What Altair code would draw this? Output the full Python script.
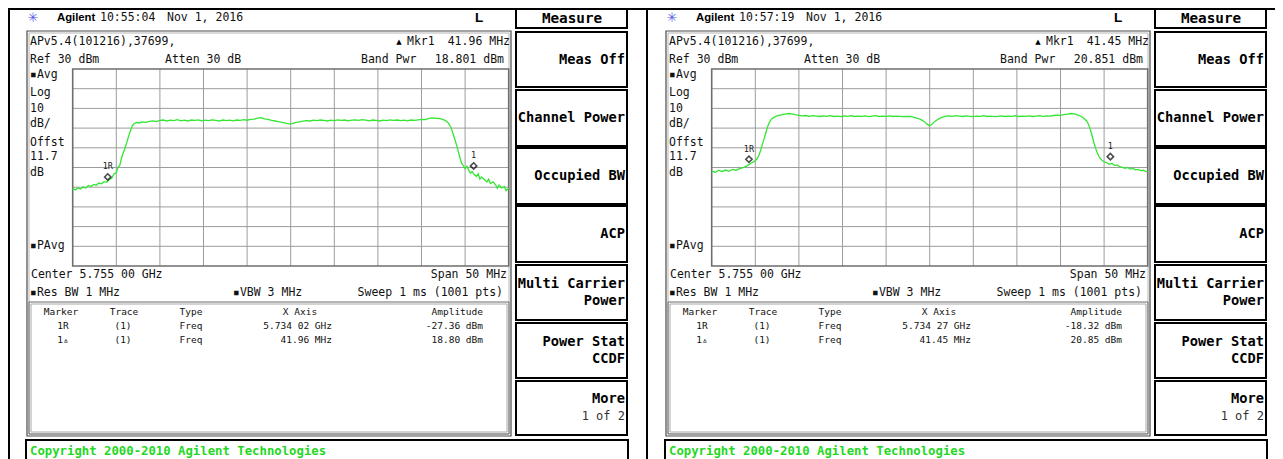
import altair as alt
import pandas as pd

# ---------------- values read from the two analyser screens ----------------
# (frequency offset from centre [MHz], level [dBm])
LEFT_TRACE = [
    (-25.0, -30.6), (-24.7, -31.4), (-24.4, -30.3), (-24.1, -30.9), (-23.8, -29.8), (-23.5, -30.4),
    (-23.2, -29.1), (-22.9, -29.6), (-22.6, -28.6), (-22.3, -29.0), (-22.0, -27.9), (-21.7, -28.3),
    (-21.4, -27.2), (-21.1, -27.5), (-20.8, -26.0), (-20.5, -25.3),
    (-20.3, -23.4), (-20.0, -22.6), (-19.8, -19.8), (-19.6, -18.9), (-19.4, -15.2), (-19.2, -12.6),
    (-19.0, -10.1), (-18.8, -7.4), (-18.6, -4.3), (-18.4, -1.6), (-18.2, 0.9), (-18.0, 2.1),
    (-17.7, 2.9), (-17.4, 2.6), (-17.0, 3.1), (-16.6, 2.9), (-16.2, 3.4), (-15.8, 3.7), (-15.4, 3.3),
    (-15.0, 3.9), (-14.6, 4.1), (-14.2, 3.6), (-13.8, 4.0), (-13.4, 3.8), (-13.0, 4.3), (-12.6, 3.7),
    (-12.2, 4.0), (-11.8, 3.6), (-11.4, 4.1), (-11.0, 3.9), (-10.6, 4.2), (-10.2, 3.7), (-9.8, 4.0),
    (-9.4, 3.8), (-9.0, 4.2), (-8.6, 3.9), (-8.2, 3.6), (-7.8, 4.1), (-7.4, 3.8), (-7.0, 4.0),
    (-6.6, 3.7), (-6.2, 4.1), (-5.8, 3.9), (-5.4, 4.3), (-5.0, 4.0), (-4.6, 4.4), (-4.2, 4.6),
    (-3.8, 5.1), (-3.4, 5.3), (-3.0, 4.7), (-2.6, 4.4), (-2.2, 3.9), (-1.8, 3.6), (-1.4, 3.3),
    (-1.0, 2.9), (-0.6, 2.5), (-0.2, 2.1), (0.2, 2.3), (0.6, 2.9), (1.0, 3.2), (1.4, 3.5), (1.8, 3.8),
    (2.2, 3.6), (2.6, 4.0), (3.0, 3.8), (3.4, 4.1), (3.8, 3.9), (4.2, 3.6), (4.6, 4.0), (5.0, 3.8),
    (5.4, 4.2), (5.8, 3.9), (6.2, 4.1), (6.6, 3.7), (7.0, 4.0), (7.4, 4.2), (7.8, 3.9), (8.2, 4.3),
    (8.6, 4.0), (9.0, 3.7), (9.4, 4.1), (9.8, 3.9), (10.2, 3.6), (10.6, 4.0), (11.0, 3.8), (11.4, 4.2),
    (11.8, 3.9), (12.2, 4.1), (12.6, 3.8), (13.0, 4.0), (13.4, 3.7), (13.8, 4.1), (14.2, 3.9),
    (14.6, 4.2), (15.0, 4.4), (15.4, 4.3), (15.8, 4.8), (16.2, 5.2), (16.6, 5.0), (17.0, 4.9),
    (17.4, 4.4), (17.7, 3.9), (18.0, 3.0), (18.2, 1.8), (18.4, 0.1), (18.6, -2.6), (18.8, -5.4),
    (19.0, -8.3), (19.2, -11.6), (19.4, -14.9), (19.6, -17.8), (19.8, -19.1), (20.0, -20.6),
    (20.2, -19.4), (20.4, -21.2), (20.6, -22.9), (20.8, -22.0), (21.0, -23.3), (21.3, -24.6),
    (21.5, -23.2), (21.7, -25.9), (21.9, -24.8), (22.2, -26.1), (22.5, -27.4), (22.7, -25.9),
    (22.9, -28.1), (23.2, -27.3), (23.5, -28.8), (23.7, -30.6), (23.9, -28.9), (24.2, -30.4),
    (24.5, -29.6), (24.7, -31.7), (25.0, -30.5),
]
RIGHT_TRACE = [
    (-25.0, -21.8), (-24.6, -22.4), (-24.2, -21.5), (-23.8, -22.0), (-23.4, -21.3), (-23.0, -21.9),
    (-22.6, -21.0), (-22.2, -21.4), (-21.8, -20.6), (-21.4, -20.1), (-21.0, -19.3), (-20.7, -18.4),
    (-20.4, -17.6), (-20.1, -16.9), (-19.8, -15.6), (-19.6, -13.9), (-19.4, -11.5), (-19.2, -8.4),
    (-19.0, -5.6), (-18.8, -2.5), (-18.6, 0.6), (-18.4, 2.8), (-18.2, 4.3), (-18.0, 5.1),
    (-17.7, 5.8), (-17.4, 6.3), (-17.0, 6.7), (-16.6, 7.1), (-16.2, 7.4), (-15.8, 7.2), (-15.4, 6.8),
    (-15.0, 6.5), (-14.6, 6.2), (-14.2, 6.4), (-13.8, 6.0), (-13.4, 6.3), (-13.0, 6.1), (-12.6, 5.9),
    (-12.2, 6.2), (-11.8, 6.0), (-11.4, 6.3), (-11.0, 5.9), (-10.6, 6.1), (-10.2, 5.8), (-9.8, 6.2),
    (-9.4, 6.0), (-9.0, 6.3), (-8.6, 5.9), (-8.2, 6.1), (-7.8, 6.0), (-7.4, 6.2), (-7.0, 5.8),
    (-6.6, 6.1), (-6.2, 6.3), (-5.8, 5.9), (-5.4, 6.1), (-5.0, 6.0), (-4.6, 6.2), (-4.2, 5.9),
    (-3.8, 6.1), (-3.4, 6.0), (-3.0, 5.8), (-2.6, 6.0), (-2.2, 5.9), (-1.8, 5.5), (-1.4, 5.0),
    (-1.0, 4.3), (-0.6, 3.2), (-0.3, 2.0), (0.0, 1.2), (0.3, 2.1), (0.6, 3.4), (1.0, 4.6), (1.4, 5.4),
    (1.8, 5.9), (2.2, 6.2), (2.6, 6.0), (3.0, 6.3), (3.4, 6.1), (3.8, 5.9), (4.2, 6.2), (4.6, 6.0),
    (5.0, 5.8), (5.4, 6.1), (5.8, 6.0), (6.2, 6.3), (6.6, 5.9), (7.0, 6.1), (7.4, 5.8), (7.8, 6.0),
    (8.2, 6.2), (8.6, 5.9), (9.0, 6.1), (9.4, 6.0), (9.8, 6.3), (10.2, 5.9), (10.6, 6.1), (11.0, 6.0),
    (11.4, 6.2), (11.8, 5.9), (12.2, 6.1), (12.6, 6.3), (13.0, 6.0), (13.4, 6.2), (13.8, 6.1),
    (14.2, 6.4), (14.6, 6.6), (15.0, 6.5), (15.4, 6.8), (15.8, 7.1), (16.2, 7.4), (16.6, 7.2),
    (17.0, 6.6), (17.4, 5.9), (17.7, 4.9), (18.0, 3.6), (18.2, 2.0), (18.4, -0.4), (18.6, -3.5),
    (18.8, -6.8), (19.0, -9.9), (19.2, -12.4), (19.4, -14.3), (19.6, -15.6), (19.8, -16.5),
    (20.0, -17.1), (20.3, -17.6), (20.6, -18.4), (20.9, -17.9), (21.2, -19.0), (21.5, -18.7),
    (21.8, -19.6), (22.1, -19.9), (22.4, -20.4), (22.7, -20.0), (23.0, -20.8), (23.3, -20.5),
    (23.6, -21.2), (23.9, -21.0), (24.2, -21.6), (24.5, -21.4), (24.8, -22.1), (25.0, -22.0),
]
MARKER_NAMES = ["1R", "1"]
LEFT_MARKER_F = [-20.98, 20.98]
LEFT_MARKER_DBM = [-24.8, -19.2]
RIGHT_MARKER_F = [-20.73, 20.72]
RIGHT_MARKER_DBM = [-15.8, -14.5]

GRID_F = [-25, -20, -15, -10, -5, 0, 5, 10, 15, 20, 25]          # span 50 MHz, 5 MHz/div
GRID_DB = [30, 20, 10, 0, -10, -20, -30, -40, -50, -60, -70]     # ref 30 dBm, 10 dB/div

TIMES = ["10:55:04", "10:57:19"]
DATES = ["Nov 1, 2016", "Nov 1, 2016"]
MKR_DELTA = ["41.96 MHz", "41.45 MHz"]
BAND_PWR = ["18.801 dBm", "20.851 dBm"]
X_1R = ["5.734 02 GHz", "5.734 27 GHz"]
AMP_1R = ["-27.36 dBm", "-18.32 dBm"]
X_1D = ["41.96 MHz", "41.45 MHz"]
AMP_1D = ["18.80 dBm", "20.85 dBm"]
SIDE_LABELS = ["\u25aaAvg", "Log", "10", "dB/", "Offst", "11.7", "dB", "\u25aaPAvg"]
SOFTKEYS = [["Meas Off"], ["Channel Power"], ["Occupied BW"], ["ACP"],
            ["Multi Carrier", "Power"], ["Power Stat", "CCDF"], ["More"]]

# ---------------- layout (screen pixels) ----------------
W, H = 1267, 451
OFF = 8
DX = [0, 639]
MONO = "DejaVu Sans Mono"
SANS = "Liberation Sans"
GREEN = "#33e633"


def P(v):
    return v - OFF


def text_layer(rows, size, align="left", weight="normal", color="#111111", font=MONO):
    df = pd.DataFrame(rows, columns=["t", "x", "y"])
    return alt.Chart(df).mark_text(font=font, fontSize=size, align=align, baseline="middle",
                                   fontWeight=weight, color=color).encode(
        x=alt.X("x:Q", scale=None), y=alt.Y("y:Q", scale=None), text="t:N")


def rect_layer(rows, stroke, width):
    df = pd.DataFrame(rows, columns=["x", "y", "x2", "y2"])
    return alt.Chart(df).mark_rect(fillOpacity=0, stroke=stroke, strokeWidth=width).encode(
        x=alt.X("x:Q", scale=None), y=alt.Y("y:Q", scale=None), x2="x2:Q", y2="y2:Q")


def rule_layer(rows, color, width):
    df = pd.DataFrame(rows, columns=["x", "y", "x2", "y2"])
    return alt.Chart(df).mark_rule(color=color, strokeWidth=width).encode(
        x=alt.X("x:Q", scale=None), y=alt.Y("y:Q", scale=None), x2="x2:Q", y2="y2:Q")


mono_l, mono_r, tab_c, tab_r, btn, btn_sub, meas, brand, lmark, logo, tri, copy = ([] for _ in range(12))
frames, frames_in, tables_o, tables_i, boxes = [], [], [], [], []
btn_rows = [(32, 87), (90, 146), (148, 204), (206, 262), (265, 320), (323, 378), (381, 435)]
side_y = [75, 92.5, 109, 124, 142.5, 157, 173, 246]

for i, dx in enumerate(DX):
    x = lambda v: P(v + dx)
    y = P
    logo.append(("\u2733", x(33), y(18)))
    brand.append(("Agilent", x(57), y(18)))
    mono_l += [(TIMES[i], x(100), y(18)), (DATES[i], x(167), y(18))]
    lmark.append(("L", x(479), y(18)))
    mono_l += [("APv5.4(101216),37699,", x(30), y(42)), ("Mkr1", x(407), y(42)),
               ("Ref 30 dBm", x(30), y(60)), ("Atten 30 dB", x(165), y(60)), ("Band Pwr", x(361), y(60)),
               ("Center 5.755 00 GHz", x(31), y(275)), ("\u25aaRes BW 1 MHz", x(30), y(293)),
               ("\u25aaVBW 3 MHz", x(233), y(293))]
    mono_l += [(s, x(30), y(v)) for s, v in zip(SIDE_LABELS, side_y)]
    mono_r += [(MKR_DELTA[i], x(510), y(42)), (BAND_PWR[i], x(504), y(60)),
               ("Span 50 MHz", x(507), y(275)), ("Sweep 1 ms (1001 pts)", x(503), y(293))]
    tri.append(("\u25b2", x(399), y(42)))
    tab_c += [("Marker", x(61), y(311.5)), ("Trace", x(124), y(311.5)), ("Type", x(191), y(311.5)),
              ("X Axis", x(300), y(311.5)),
              ("1R", x(63), y(325.5)), ("(1)", x(123), y(325.5)), ("Freq", x(191), y(325.5)),
              ("1\u25b5", x(63), y(339.5)), ("(1)", x(123), y(339.5)), ("Freq", x(191), y(339.5))]
    tab_r += [("Amplitude", x(483), y(311.5)), (X_1R[i], x(332), y(325.5)), (AMP_1R[i], x(483), y(325.5)),
              (X_1D[i], x(332), y(339.5)), (AMP_1D[i], x(483), y(339.5))]
    meas.append(("Measure", x(572), y(18.5)))
    for (t0, t1), labels in zip(btn_rows, SOFTKEYS):
        mid = (t0 + t1) / 2
        if len(labels) == 1 and labels[0] != "More":
            btn.append((labels[0], x(625), y(mid)))
        elif labels[0] == "More":
            btn.append(("More", x(625), y(399)))
            btn_sub.append(("1 of 2", x(625), y(416)))
        else:
            btn += [(labels[0], x(625), y(mid - 8.5)), (labels[1], x(625), y(mid + 8.5))]
        boxes.append((x(516), y(t0), x(627), y(t1)))
    boxes.append((x(516), y(9), x(627), y(28)))
    boxes.append((x(26), y(440), x(628), y(475)))
    copy.append(("Copyright 2000-2010 Agilent Technologies", x(30), y(451)))
    frames.append((x(27), y(31), x(511), y(436)))
    frames_in.append((x(29), y(33), x(509), y(434)))
    tables_o.append((x(29), y(302), x(509), y(434)))
    tables_i.append((x(31), y(304), x(507), y(432)))

deco = [
    rule_layer([(0, 1, 1269, 1), (1, 0, 1, H), (P(647), 0, P(647), H)], "black", 2),
    rect_layer(frames, "#4a4a4a", 1.2),
    rect_layer(frames_in, "#b5b5b5", 1),
    rect_layer(tables_o, "#6a6a6a", 1),
    rect_layer(tables_i, "#a8a8a8", 1),
    rect_layer(boxes, "black", 2),
    text_layer(mono_l, 11.5),
    text_layer(mono_r, 11.5, align="right"),
    text_layer(tab_c, 9.5, align="center"),
    text_layer(tab_r, 9.5, align="right"),
    text_layer(btn, 13.7, align="right", weight="bold", color="black"),
    text_layer(btn_sub, 12, align="right", color="#333333"),
    text_layer(meas, 14.3, align="center", weight="bold", color="black"),
    text_layer(brand, 11.3, weight="bold", color="black", font=SANS),
    text_layer(lmark, 13.5, align="center", weight="bold", color="black", font=SANS),
    text_layer(logo, 13, align="center", color="#5a5ae8", font="DejaVu Sans"),
    text_layer(tri, 7, align="center", color="black", font="DejaVu Sans"),
    text_layer(copy, 12.3, weight="bold", color="#1fd81f"),
]


def panel(dx, trace, mf, mdb):
    gx0 = P(72.7 + dx)
    gx1 = gx0 + 436.0
    gy0, gy1 = P(69.0), P(266.0)
    kx = (gx1 - gx0) / (GRID_F[-1] - GRID_F[0])
    fmin = GRID_F[0] - gx0 / kx
    xs = alt.Scale(domain=[fmin, fmin + W / kx], nice=False, zero=False)
    ky = (gy1 - gy0) / (GRID_DB[0] - GRID_DB[-1])
    dmax = GRID_DB[0] + gy0 / ky
    ys = alt.Scale(domain=[dmax - H / ky, dmax], nice=False, zero=False)

    vg = pd.DataFrame({"f": GRID_F[1:-1], "top": GRID_DB[0], "bot": GRID_DB[-1]})
    hg = pd.DataFrame({"db": GRID_DB[1:-1], "lo": GRID_F[0], "hi": GRID_F[-1]})
    border = pd.DataFrame({"lo": [GRID_F[0]], "hi": [GRID_F[-1]], "top": [GRID_DB[0]], "bot": [GRID_DB[-1]]})
    tr = pd.DataFrame(trace, columns=["f", "dbm"])
    mk = pd.DataFrame({"f": mf, "dbm": mdb, "name": MARKER_NAMES})

    v = alt.Chart(vg).mark_rule(color="#9c9c9c", strokeWidth=1).encode(
        x=alt.X("f:Q", scale=xs, axis=None), y=alt.Y("top:Q", scale=ys, axis=None), y2="bot:Q")
    h = alt.Chart(hg).mark_rule(color="#9c9c9c", strokeWidth=1).encode(
        y=alt.Y("db:Q", scale=ys, axis=None), x=alt.X("lo:Q", scale=xs, axis=None), x2="hi:Q")
    b = alt.Chart(border).mark_rect(fillOpacity=0, stroke="#6e6e6e", strokeWidth=1.6).encode(
        x=alt.X("lo:Q", scale=xs, axis=None), x2="hi:Q", y=alt.Y("top:Q", scale=ys, axis=None), y2="bot:Q")
    line = alt.Chart(tr).mark_line(color=GREEN, strokeWidth=1.3).encode(
        x=alt.X("f:Q", scale=xs, axis=None), y=alt.Y("dbm:Q", scale=ys, axis=None))
    pts = alt.Chart(mk).mark_point(shape="diamond", filled=False, color="black", strokeWidth=1.6, size=40).encode(
        x=alt.X("f:Q", scale=xs, axis=None), y=alt.Y("dbm:Q", scale=ys, axis=None))
    lab = alt.Chart(mk).mark_text(font=MONO, fontSize=8.5, dy=-10.5, color="#222222").encode(
        x=alt.X("f:Q", scale=xs, axis=None), y=alt.Y("dbm:Q", scale=ys, axis=None), text="name:N")
    return alt.layer(v, h, b, line, pts, lab)


left = panel(DX[0], LEFT_TRACE, LEFT_MARKER_F, LEFT_MARKER_DBM)
right = panel(DX[1], RIGHT_TRACE, RIGHT_MARKER_F, RIGHT_MARKER_DBM)

chart = alt.layer(*deco, left, right).resolve_scale(x="independent", y="independent").properties(
    width=W, height=H, autosize=alt.AutoSizeParams(type="none"), padding=0, background="white"
).configure_view(stroke=None)

chart.save("out.html", embed_options={"renderer": "svg", "actions": False})
